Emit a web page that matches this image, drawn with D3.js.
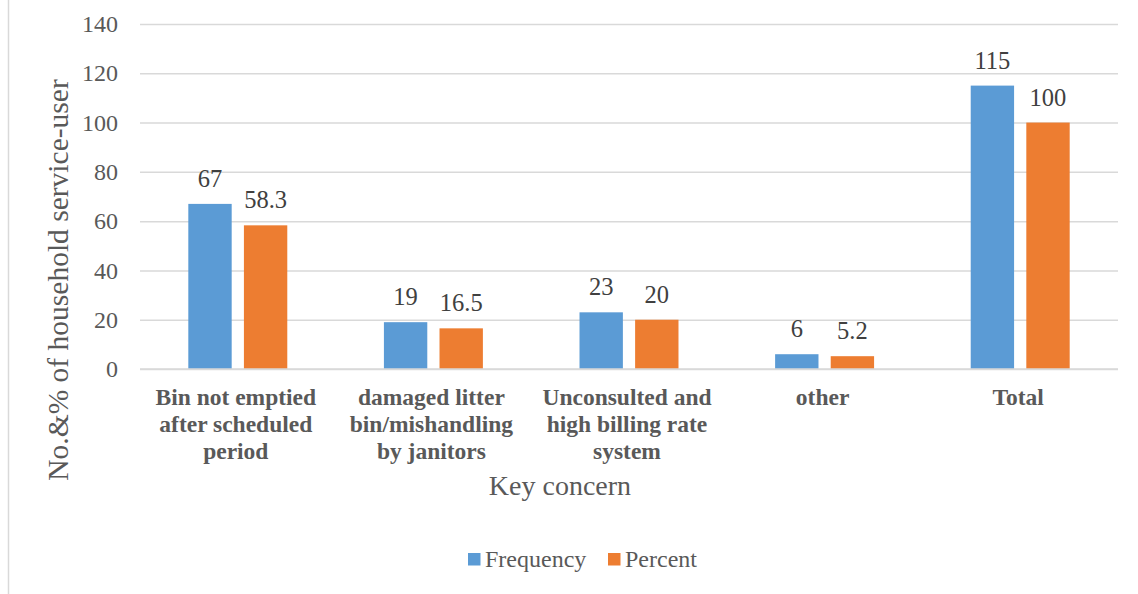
<!DOCTYPE html>
<html>
<head>
<meta charset="utf-8">
<script src="https://cdn.jsdelivr.net/npm/d3@7"></script>
<style>
  html, body { margin: 0; padding: 0; background: #fff; }
  svg text, svg tspan { font-family: "Liberation Serif", "Times New Roman", Times, serif !important; }
</style>
</head>
<body>
<svg id="chart" width="1138" height="594"></svg>
<script>
// Key concerns reported by household service-users
const categories = [
  ["Bin not emptied", "after scheduled", "period"],
  ["damaged litter", "bin/mishandling", "by janitors"],
  ["Unconsulted and", "high billing rate", "system"],
  ["other"],
  ["Total"]
];
const seriesNames = ["Frequency", "Percent"];
const frequency = [67, 19, 23, 6, 115];
const percent = [58.3, 16.5, 20, 5.2, 100];
const yTicks = [0, 20, 40, 60, 80, 100, 120, 140];
const colors = ["#5B9BD5", "#ED7D31"];

const svg = d3.select("#chart");
const margin = { left: 140, right: 20, top: 24, bottom: 225 };
const W = 1138, H = 594;
const plotRight = W - margin.right;
const plotBottom = H - margin.bottom;

// outer frame edge
svg.append("line")
  .attr("x1", 8.5).attr("x2", 8.5).attr("y1", 0).attr("y2", H)
  .attr("stroke", "#d9d9d9").attr("stroke-width", 1.5);

const keys = categories.map((c, i) => i);
const x0 = d3.scaleBand().domain(keys).range([margin.left, plotRight]).paddingInner(0.494).paddingOuter(0.247);
const x1 = d3.scaleBand().domain(seriesNames).range([0, x0.bandwidth()]).paddingInner(0.22);
const y = d3.scaleLinear().domain([0, 140]).range([plotBottom, margin.top]);

// gridlines and tick labels
const yAxis = d3.axisLeft(y).tickValues(yTicks).tickSize(-(plotRight - margin.left)).tickPadding(22);
const gy = svg.append("g").attr("transform", `translate(${margin.left},0)`).call(yAxis);
gy.attr("font-family", null).attr("font-size", null);
gy.select(".domain").remove();
gy.selectAll(".tick line").attr("stroke", "#d9d9d9").attr("stroke-width", 1.5);
gy.selectAll(".tick text")
  .attr("fill", "#595959")
  .style("font-size", "24px");

// bars
const rows = keys.map(i => ({ i, vals: [frequency[i], percent[i]] }));
const groups = svg.append("g").selectAll("g").data(rows).join("g")
  .attr("transform", d => `translate(${x0(d.i)},0)`);

groups.selectAll("rect").data(d => d.vals.map((v, k) => ({ v, k })))
  .join("rect")
  .attr("x", d => x1(seriesNames[d.k]))
  .attr("width", x1.bandwidth())
  .attr("y", d => y(d.v))
  .attr("height", d => y(0) - y(d.v))
  .attr("fill", d => colors[d.k]);

groups.selectAll("text.val").data(d => d.vals.map((v, k) => ({ v, k })))
  .join("text")
  .attr("class", "val")
  .attr("x", d => x1(seriesNames[d.k]) + x1.bandwidth() / 2)
  .attr("y", d => y(d.v) - 17)
  .attr("text-anchor", "middle")
  .attr("fill", "#404040")
  .style("font-size", "24.5px")
  .text(d => d.v);

// baseline
svg.append("line")
  .attr("x1", margin.left).attr("x2", plotRight)
  .attr("y1", y(0)).attr("y2", y(0))
  .attr("stroke", "#d9d9d9").attr("stroke-width", 1.5);

// category labels
const catG = svg.append("g");
categories.forEach((lines, i) => {
  const cx = x0(i) + x0.bandwidth() / 2 - 2;
  const t = catG.append("text")
    .attr("text-anchor", "middle")
    .attr("fill", "#595959")
    .style("font-size", "23.5px")
    .style("font-weight", "bold");
  lines.forEach((ln, j) => {
    t.append("tspan").attr("x", cx).attr("y", 405 + j * 27).text(ln);
  });
});

// axis titles
svg.append("text")
  .attr("x", 560)
  .attr("y", 495)
  .attr("text-anchor", "middle")
  .attr("fill", "#595959")
  .style("font-size", "28px")
  .text("Key concern");

svg.append("text")
  .attr("transform", "translate(68,280) rotate(-90)")
  .attr("text-anchor", "middle")
  .attr("fill", "#595959")
  .style("font-size", "29.5px")
  .text("No.&% of household service-user");

// legend
const legend = svg.append("g");
const legendItems = [
  { name: seriesNames[0], color: colors[0], x: 468 },
  { name: seriesNames[1], color: colors[1], x: 608 }
];
legendItems.forEach(d => {
  legend.append("rect").attr("x", d.x).attr("y", 553).attr("width", 12.5).attr("height", 12.5).attr("fill", d.color);
  legend.append("text").attr("x", d.x + 17).attr("y", 567)
    .attr("fill", "#595959").style("font-size", "24px").text(d.name);
});
</script>
</body>
</html>
